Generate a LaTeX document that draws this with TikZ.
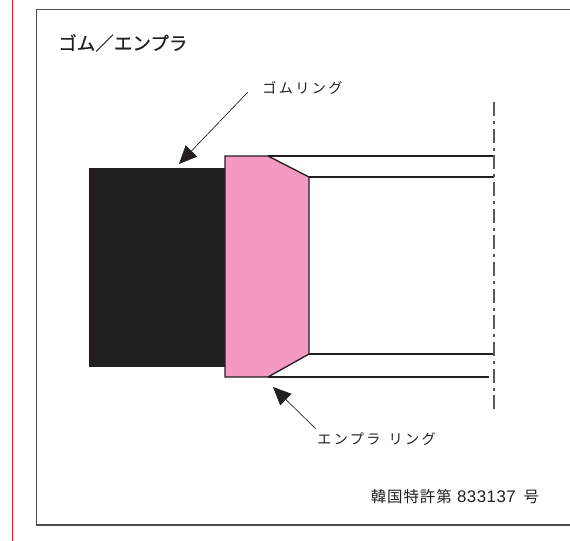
\documentclass[tikz,border=0pt]{standalone}
\usepackage{fontspec}
\usepackage{xcolor}
\usetikzlibrary{arrows.meta}
\newfontfamily\jpwide[LetterSpace=17]{Noto Sans CJK JP}
\newfontfamily\jppat[LetterSpace=6]{Noto Sans CJK JP}
\newfontfamily\jpbold[FakeBold=0.5]{Noto Sans CJK JP}
\newfontfamily\digits[LetterSpace=3]{Liberation Sans}
\definecolor{inkc}{HTML}{231F20}
\definecolor{pinkc}{HTML}{F49AC1}
\definecolor{redc}{HTML}{ED1C24}
\tikzset{
  ln/.style={draw=inkc,line width=1pt},
  lead/.style={draw=inkc,line width=0.5pt,-{Triangle[length=13.5pt,width=12pt]}},
  lab/.style={inner sep=0pt,text=inkc,font=\jpwide\fontsize{10.6pt}{12pt}\selectfont},
}
\begin{document}
\begin{tikzpicture}[x=0.75pt,y=-0.75pt]
\useasboundingbox (0,0) rectangle (570,541);
\draw[redc,line width=0.75pt] (12.5,0) -- (12.5,541);
\draw[draw=inkc!80,line width=0.9pt] (570,9.5) -- (36.5,9.5) -- (36.5,525) -- (570,525);
\node[lab,anchor=west,font=\jpbold\fontsize{13.9pt}{16pt}\selectfont] (title) at (58,43) {ゴム／エンプラ};
\fill[inkc] (89,168) rectangle (225,367);
\draw[ln] (268,156) -- (494,156);
\draw[ln] (309,177) -- (494,177);
\draw[ln] (309,354) -- (494,354);
\draw[ln] (268,377) -- (489,377);
\draw[ln,fill=pinkc] (225,156) -- (268,156) -- (309,177) -- (309,354) -- (268,377) -- (225,377) -- cycle;
\draw[draw=inkc!75,line width=0.9pt,dash pattern=on 10.5pt off 3.75pt on 2.25pt off 3.5pt] (494,102) -- (494,410);
\node[lab,anchor=west] (gom) at (262,88) {ゴムリング};
\node[lab,anchor=west] (enp) at (317,439) {エンプラ\hspace{6pt}リング};
\node[lab,anchor=west,font=\jppat\fontsize{11.6pt}{14pt}\selectfont] (pat) at (370.5,497) {韓国特許第\hspace{4pt}{\digits\fontsize{12.6pt}{14pt}\selectfont 833137}\hspace{6pt}号};
\coordinate (g1) at (248,92);
\coordinate (g2) at (179,164);
\coordinate (e1) at (316,429);
\coordinate (e2) at (273,387);
\draw[lead] (g1) -- (g2);
\draw[lead] (e1) -- (e2);
\end{tikzpicture}
\end{document}
